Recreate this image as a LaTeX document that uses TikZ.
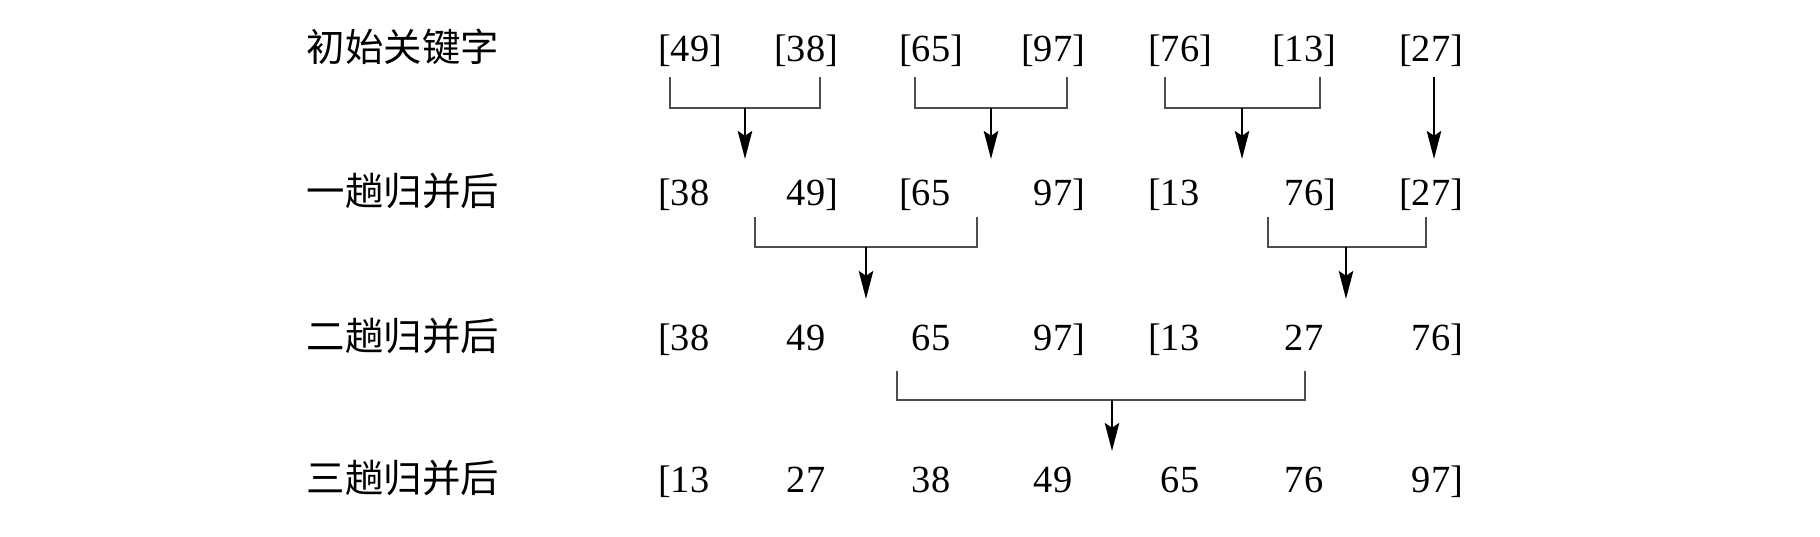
\documentclass[tikz,border=0pt]{standalone}
\usepackage{fontspec}
\setmainfont{Liberation Serif}
\newfontfamily\cjk{Noto Sans CJK SC}
\usetikzlibrary{arrows.meta}

% brackets that do not move the digits
\newcommand{\obr}{\llap{[}}
\newcommand{\cbr}{\rlap{]}}

% name, left x, right x, arrow x, top y, bar y, tip y
\newcommand{\mergebr}[7]{%
  \coordinate (#1l) at (#2,#5);
  \coordinate (#1r) at (#3,#5);
  \coordinate (#1m) at (#4,#6);
  \coordinate (#1t) at (#4,#7);
  \draw[bracket] (#1l) |- (#1m) -| (#1r);
  \draw[down] (#1m) -- (#1t);
}

\begin{document}
\begin{tikzpicture}[x=0.25pt,y=-0.25pt,
    key/.style={font=\fontsize{9.6}{12}\selectfont,inner sep=0pt,anchor=base},
    pass/.style={font=\cjk\fontsize{9.6}{12}\selectfont,inner sep=0pt,anchor=base west},
    bracket/.style={draw=black!70,line width=0.65pt},
    down/.style={line width=0.6pt,-{Stealth[length=7pt,width=3.6pt,inset=1.2pt]}}]

  % Frame
  \useasboundingbox (0,0) rectangle (1820,536);

  % Pass labels
  \node[pass] (la) at (306,61) {初始关键字};
  \node[pass] (lb) at (306,205) {一趟归并后};
  \node[pass] (lc) at (306,350) {二趟归并后};
  \node[pass] (ld) at (306,492) {三趟归并后};

  % Keys, row by row
  \foreach \t [count=\i] in {\obr49\cbr,\obr38\cbr,\obr65\cbr,\obr97\cbr,\obr76\cbr,\obr13\cbr,\obr27\cbr}{
    \pgfmathsetmacro{\cx}{{690,806,931,1053,1180,1304,1431}[\i-1]}
    \node[key] (a\i) at (\cx,61) {\t};
  }
  \foreach \t [count=\i] in {\obr38,49\cbr,\obr65,97\cbr,\obr13,76\cbr,\obr27\cbr}{
    \pgfmathsetmacro{\cx}{{690,806,931,1053,1180,1304,1431}[\i-1]}
    \node[key] (b\i) at (\cx,205) {\t};
  }
  \foreach \t [count=\i] in {\obr38,49,65,97\cbr,\obr13,27,76\cbr}{
    \pgfmathsetmacro{\cx}{{690,806,931,1053,1180,1304,1431}[\i-1]}
    \node[key] (c\i) at (\cx,350) {\t};
  }
  \foreach \t [count=\i] in {\obr13,27,38,49,65,76,97\cbr}{
    \pgfmathsetmacro{\cx}{{690,806,931,1053,1180,1304,1431}[\i-1]}
    \node[key] (d\i) at (\cx,492) {\t};
  }

  % First pass
  \mergebr{pa}{670}{820}{745}{77}{108}{159}
  \mergebr{pb}{915}{1067}{991}{77}{108}{159}
  \mergebr{pc}{1165}{1320}{1242}{77}{108}{159}
  \coordinate (pdl) at (1434,77);
  \coordinate (pdt) at (1434,159);
  \draw[down] (pdl) -- (pdt);

  % Second pass
  \mergebr{qa}{755}{977}{866}{217}{247}{299}
  \mergebr{qb}{1268}{1426}{1346}{217}{247}{299}

  % Third pass
  \mergebr{ra}{897}{1305}{1112}{371}{400}{451}
\end{tikzpicture}
\end{document}
